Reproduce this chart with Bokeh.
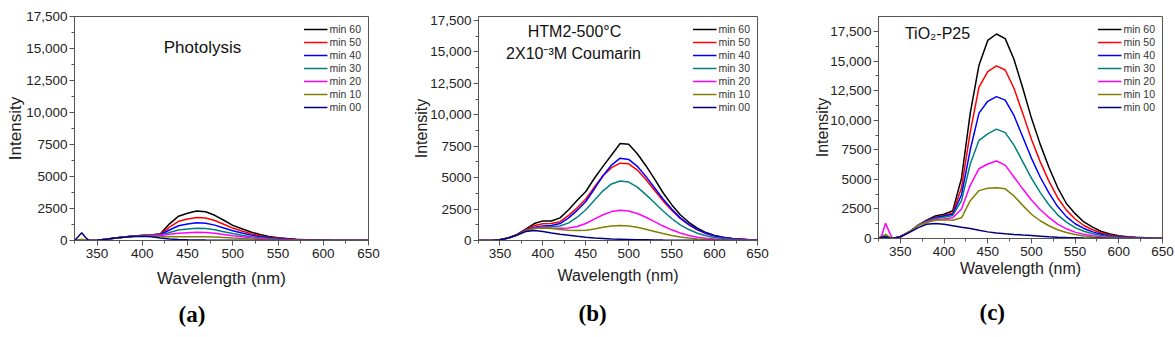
from bokeh.plotting import figure
from bokeh.layouts import row
from bokeh.models import Legend, LegendItem, Label, FixedTicker, Range1d, Title
from bokeh.embed import file_html
from bokeh.resources import INLINE

# ---------------- data ----------------
WAVELENGTH = [325, 329, 333, 337, 341, 350, 360, 370, 380, 390, 400, 410, 420, 430, 440,
              450, 460, 470, 480, 490, 500, 510, 520, 530, 540, 550, 560, 570, 580, 590,
              600, 610, 620, 630, 640, 650]

SERIES_LABELS = ["min 60", "min 50", "min 40", "min 30", "min 20", "min 10", "min 00"]
COLORS = ["#000000", "#ff0000", "#0000ff", "#008080", "#ff00ff", "#808000", "#000080"]

X_TICKS = [350, 400, 450, 500, 550, 600, 650]
Y_TICKS = [0, 2500, 5000, 7500, 10000, 12500, 15000, 17500]
Y_TICK_LABELS = ["0", "2500", "5000", "7500", "10,000", "12,500", "15,000", "17,500"]

# (a) Photolysis
A_MIN60 = [0, 0, 0, 0, 0, 20, 100, 200, 280, 350, 400, 430, 530, 1300, 1900, 2130, 2300, 2250, 1970, 1580, 1180, 920, 660, 470, 320, 210, 150, 100, 60, 40, 20, 10, 5, 0, 0, 0]
A_MIN50 = [0, 0, 0, 0, 0, 20, 100, 200, 280, 350, 400, 425, 500, 1050, 1500, 1680, 1790, 1760, 1560, 1270, 970, 740, 530, 380, 260, 170, 120, 80, 50, 30, 15, 8, 0, 0, 0, 0]
A_MIN40 = [0, 0, 0, 0, 0, 20, 100, 195, 275, 345, 395, 410, 470, 820, 1150, 1290, 1380, 1350, 1200, 980, 760, 580, 420, 300, 210, 140, 100, 65, 40, 25, 12, 5, 0, 0, 0, 0]
A_MIN30 = [0, 0, 0, 0, 0, 20, 95, 190, 270, 340, 390, 400, 440, 620, 820, 900, 960, 940, 840, 690, 540, 410, 300, 215, 150, 100, 70, 45, 30, 20, 10, 5, 0, 0, 0, 0]
A_MIN20 = [0, 0, 0, 0, 0, 20, 95, 185, 265, 335, 380, 390, 400, 480, 560, 600, 640, 620, 560, 470, 370, 290, 210, 150, 105, 70, 50, 35, 20, 12, 6, 0, 0, 0, 0, 0]
A_MIN10 = [0, 30, 100, 30, 0, 20, 95, 185, 260, 320, 350, 340, 310, 290, 290, 295, 300, 290, 270, 235, 190, 150, 115, 85, 60, 40, 28, 18, 10, 5, 0, 0, 0, 0, 0, 0]
A_MIN00 = [0, 300, 600, 250, 0, 20, 100, 190, 260, 310, 330, 290, 200, 120, 70, 50, 40, 30, 25, 20, 15, 10, 8, 5, 0, 0, 0, 0, 0, 0, 0, 0, 0, 0, 0, 0]

# (b) HTM2-500 C
B_MIN60 = [0, 0, 0, 0, 0, 60, 230, 480, 900, 1350, 1560, 1550, 1800, 2450, 3200, 3900, 4950, 5900, 6800, 7720, 7650, 6900, 5950, 4900, 3800, 2850, 2050, 1450, 980, 630, 400, 250, 160, 110, 60, 30]
B_MIN50 = [0, 0, 0, 0, 0, 60, 210, 450, 850, 1200, 1330, 1350, 1500, 2000, 2600, 3300, 4250, 5150, 5800, 6150, 6100, 5600, 4850, 4000, 3150, 2400, 1750, 1250, 850, 560, 360, 230, 150, 100, 60, 30]
B_MIN40 = [0, 0, 0, 0, 0, 60, 200, 430, 800, 1050, 1150, 1200, 1350, 1800, 2400, 3100, 4100, 5150, 6000, 6550, 6450, 5900, 5100, 4200, 3300, 2500, 1800, 1280, 870, 570, 370, 235, 150, 100, 60, 30]
B_MIN30 = [0, 0, 0, 0, 0, 60, 190, 420, 780, 1000, 1100, 1100, 1150, 1400, 1850, 2450, 3200, 3950, 4500, 4740, 4650, 4250, 3650, 3000, 2350, 1750, 1250, 870, 580, 380, 240, 150, 100, 60, 40, 20]
B_MIN20 = [0, 0, 0, 0, 0, 60, 190, 420, 780, 980, 1050, 1000, 980, 1000, 1120, 1350, 1700, 2050, 2300, 2400, 2350, 2150, 1850, 1500, 1150, 850, 600, 400, 260, 170, 110, 70, 45, 30, 15, 10]
B_MIN10 = [0, 0, 0, 0, 0, 60, 190, 420, 750, 950, 1000, 950, 880, 820, 790, 820, 920, 1050, 1160, 1200, 1150, 1050, 900, 720, 550, 400, 280, 190, 120, 80, 50, 30, 20, 10, 5, 0]
B_MIN00 = [0, 0, 0, 0, 0, 60, 200, 450, 720, 790, 720, 600, 500, 420, 330, 260, 200, 160, 120, 100, 80, 60, 50, 40, 30, 25, 20, 15, 10, 8, 5, 5, 0, 0, 0, 0]

# (c) TiO2-P25
C_MIN60 = [0, 100, 200, 100, 0, 150, 550, 1100, 1550, 1900, 2050, 2350, 5100, 10600, 14650, 16750, 17290, 16900, 15150, 12740, 10180, 7980, 6020, 4310, 2960, 2100, 1400, 960, 590, 380, 240, 150, 100, 60, 30, 15]
C_MIN50 = [0, 80, 150, 80, 0, 150, 550, 1100, 1500, 1800, 1950, 2150, 4300, 9000, 12800, 14100, 14600, 14250, 12700, 10600, 8400, 6500, 4850, 3450, 2400, 1650, 1100, 740, 470, 300, 180, 110, 70, 40, 20, 10]
C_MIN40 = [0, 80, 150, 80, 0, 150, 550, 1100, 1480, 1750, 1900, 2050, 3700, 7500, 10600, 11600, 12000, 11700, 10400, 8600, 6800, 5200, 3850, 2700, 1850, 1250, 850, 560, 360, 220, 140, 90, 50, 30, 15, 5]
C_MIN30 = [0, 80, 150, 80, 0, 150, 550, 1100, 1450, 1700, 1800, 1950, 3200, 6300, 8300, 8850, 9250, 8950, 7900, 6500, 5100, 3900, 2850, 2000, 1380, 920, 610, 400, 250, 160, 100, 60, 35, 20, 10, 5]
C_MIN20 = [0, 300, 1300, 600, 0, 150, 550, 1100, 1400, 1600, 1650, 1750, 2500, 4500, 5900, 6300, 6550, 6200, 5200, 4200, 3250, 2450, 1780, 1220, 820, 540, 350, 230, 150, 90, 55, 30, 20, 10, 5, 0]
C_MIN10 = [0, 150, 350, 150, 0, 150, 550, 1100, 1350, 1550, 1580, 1550, 1750, 3200, 4050, 4250, 4300, 4200, 3600, 2800, 2050, 1500, 1080, 740, 500, 330, 210, 135, 85, 50, 30, 15, 10, 5, 0, 0]
C_MIN00 = [0, 100, 150, 50, 0, 150, 500, 900, 1200, 1270, 1200, 1080, 950, 850, 700, 560, 470, 400, 340, 290, 250, 200, 150, 110, 80, 60, 40, 30, 20, 10, 5, 0, 0, 0, 0, 0]

FONT = "Liberation Sans"
AXIS_COLOR = "#555555"


def make_panel(series, fw, fh, borders, y_end, x_label_standoff, y_label_standoff,
               label_size, titles, caption, caption_offset, caption_standoff):
    left, right, top, bottom = borders
    p = figure(frame_width=fw, frame_height=fh, min_border_left=left, min_border_right=right,
               min_border_top=top, min_border_bottom=bottom, output_backend="svg",
               toolbar_location=None, x_range=Range1d(325, 650), y_range=Range1d(0, y_end))
    p.xgrid.visible = False
    p.ygrid.visible = False
    p.outline_line_color = AXIS_COLOR
    p.outline_line_width = 1
    p.background_fill_color = "white"
    p.border_fill_color = "white"

    x_minor = sorted(set([t - 25 for t in X_TICKS] + [X_TICKS[-1] - 25]))
    p.xaxis.ticker = FixedTicker(ticks=X_TICKS, minor_ticks=x_minor)
    y_minor = [t + 1250 for t in Y_TICKS[:-1]]
    p.yaxis.ticker = FixedTicker(ticks=Y_TICKS, minor_ticks=y_minor)
    p.yaxis.major_label_overrides = {t: s for t, s in zip(Y_TICKS, Y_TICK_LABELS)}

    for ax in (p.xaxis[0], p.yaxis[0]):
        ax.axis_line_color = AXIS_COLOR
        ax.major_tick_line_color = AXIS_COLOR
        ax.minor_tick_line_color = AXIS_COLOR
        ax.major_tick_out = 5
        ax.major_tick_in = 0
        ax.minor_tick_out = 3
        ax.minor_tick_in = 0
        ax.major_label_text_font = FONT
        ax.major_label_text_font_size = "13.5px"
        ax.major_label_text_color = "#222222"
        ax.major_label_standoff = 2
        ax.axis_label_text_font = FONT
        ax.axis_label_text_font_style = "normal"
        ax.axis_label_text_font_size = label_size
        ax.axis_label_text_color = "#222222"

    p.xaxis.axis_label = "Wavelength (nm)"
    p.yaxis.axis_label = "Intensity"
    p.xaxis.major_label_standoff = 3
    p.xaxis.axis_label_standoff = x_label_standoff
    p.yaxis.axis_label_standoff = y_label_standoff

    renderers = []
    for ys, color in zip(series, COLORS):
        r = p.line(WAVELENGTH, ys, line_color=color, line_width=1.5)
        renderers.append(r)

    items = [LegendItem(label=lab, renderers=[r]) for lab, r in zip(SERIES_LABELS, renderers)]
    legend = Legend(items=items, location="top_right", margin=0, padding=7, spacing=1,
                    glyph_width=24, glyph_height=12, label_height=12, label_standoff=2,
                    label_text_font=FONT, label_text_font_size="10.5px",
                    label_text_color="#333333", border_line_alpha=0,
                    background_fill_alpha=0)
    p.add_layout(legend)

    # helpers converting frame pixel offsets to data coordinates
    def dx(px):
        return 325 + px * (650 - 325) / fw

    def dy(py):
        return y_end - py * y_end / fh

    for text, px, py, size in titles:
        p.add_layout(Label(x=dx(px), y=dy(py), text=text, text_align="center",
                           text_baseline="middle", text_font=FONT, text_font_size=size,
                           text_color="#111111"))

    p.add_layout(Title(text=caption, align="left", offset=caption_offset,
                       standoff=caption_standoff, text_font="Liberation Serif",
                       text_font_size="23px", text_font_style="bold",
                       text_color="#000000"), "below")
    return p


pa = make_panel([A_MIN60, A_MIN50, A_MIN40, A_MIN30, A_MIN20, A_MIN10, A_MIN00],
                294, 224, (74, 42, 16, 0), 17500, 8, -2, "17px",
                [("Photolysis", 128, 31, "17px")], "(a)", 104, 18)

pb = make_panel([B_MIN60, B_MIN50, B_MIN40, B_MIN30, B_MIN20, B_MIN10, B_MIN00],
                279, 224, (65, 54, 13, 0), 17820, 6, -3, "16px",
                [("HTM2-500°C", 96, 14.5, "16px"),
                 ("2X10⁻³M Coumarin", 95, 37, "16px")], "(b)", 100, 25)

pc = make_panel([C_MIN60, C_MIN50, C_MIN40, C_MIN30, C_MIN20, C_MIN10, C_MIN00],
                284, 222, (63, 12, 15, 0), 18770, 1, -4, "16px",
                [("TiO₂-P25", 59, 17, "16px")], "(c)", 101, 36)

layout = row(pa, pb, pc)
open("out.html", "w").write(file_html(layout, INLINE))
